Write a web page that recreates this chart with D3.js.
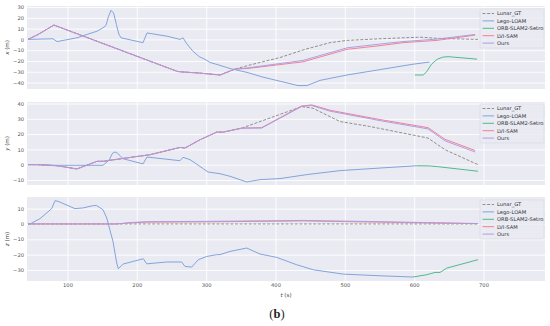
<!DOCTYPE html>
<html><head><meta charset="utf-8">
<script src="https://cdn.jsdelivr.net/npm/d3@7"></script>
<style>body{margin:0;background:#fff}svg{display:block}</style>
</head><body>
<svg id="c" width="550" height="326"></svg>
<script>
const seriesNames = ["Lunar_GT","Lego-LOAM","ORB-SLAM2-Setro","LVI-SAM","Ours"];
const xTicks = [100,200,300,400,500,600,700];
const yTicksX = [-40,-30,-20,-10,0,10,20,30];
const yTicksY = [-10,0,10,20,30,40];
const yTicksZ = [-30,-20,-10,0,10];

// panel x (m)
const commonX = [[43,0],[56,4],[80.5,13.3],[258,-29.6],[262,-30],[290,-31.2],[320,-33],[341.6,-27.5]];
const gtX = [[358.5,-24.5],[380,-21],[406.5,-16.8],[442.6,-9.2],[478.7,-3],[503,-0.9],[550.8,0.6],[608.5,2.1],[633,1],[692,0]];
const lviX = [[358.9,-27],[439.7,-20.8],[503.2,-9.2],[550.8,-5.8],[584,-3],[633,-0.9],[688,4]];
const oursX = [[358.9,-26.5],[439.7,-19.5],[503.2,-7.8],[550.8,-4.3],[584,-2],[633,0.3],[688,4.6]];
const legoX = [[43,0],[79,0.6],[85,-2],[113.7,1.5],[128,4.6],[142.6,7.6],[151,10.7],[155.5,13],[159,21],[162.8,27],[166.5,24.5],[170.5,14],[174,5],[177.2,1.5],[208.9,-3],[214.7,6],[243.5,3],[262.3,0],[266.6,1.5],[272,-4],[281,-11],[290,-16],[298.3,-18.5],[305.5,-21.4],[317,-23.5],[334.4,-27],[358.9,-30.6],[382,-35],[432.5,-42.8],[445.5,-42.8],[464.2,-38],[503.2,-33],[550.8,-28],[598.4,-23],[622,-21]];
const orbX = [[601,-33],[613,-33],[618,-30],[625,-23],[633,-18.5],[641,-16.5],[649,-16],[690.7,-18.3]];

// panel y (m)
const commonY = [[43,0],[56,0],[84.9,-0.7],[113.7,-2.8],[142.6,2.2],[151.2,2.2],[194.5,5],[219,6.5],[262.3,11.3],[269.5,10.9],[291.1,16.3],[315.2,21.3],[324.3,21.3],[351.3,23.9]];
const gtY = [[437.8,38],[454.1,36.9],[493.1,28.2],[536,25],[620,17.4],[644.5,9.8],[692,0]];
const lviY = [[380.1,24.2],[437.8,38.4],[452.3,39.1],[478.7,35.6],[550.8,29.5],[620,24.2],[644.5,16.6],[687.8,9.3]];
const oursY = [[380.1,24],[437.8,38.1],[452.3,38.7],[478.7,35],[550.8,28.8],[620,23.4],[644.5,15.6],[687.8,8.3]];
const legoY = [[43,0],[60,0],[85,-0.4],[151.2,-0.4],[160,3],[165,7.5],[168.5,8.3],[172,7.5],[175.7,6],[180,3.9],[208.9,0.5],[214.7,5],[262.3,2.6],[266.6,4.8],[276.7,3.3],[283.9,1.1],[302.7,-4.8],[320,-5.9],[334.4,-7.6],[358.5,-11.3],[377.7,-9.8],[406.5,-9.1],[445.1,-6.5],[493.1,-3.9],[550.8,-2.2],[603.7,-0.7]];
const orbY = [[603.7,-0.7],[622,-0.8],[634,-1.3],[692,-4.3]];

// panel z (m)
const gtZ = [[43,0],[692,0]];
const lviZ = [[43,0],[171,0],[190,0.7],[215,1.2],[300,1.4],[440,2],[550,1.2],[620,0.7],[692,0.2]];
const oursZ = [[43,0],[171,0],[190,0.9],[215,1.5],[300,1.7],[440,2.3],[550,1.5],[620,0.9],[692,0.3]];
const legoZ = [[43,0],[45.9,0],[60.4,3.5],[77.2,10],[82,15.2],[86.3,14.8],[110.8,10],[122.8,10.5],[137.2,12],[142.1,12],[151.2,9.3],[156.6,3.9],[165.6,-11.4],[171,-25.5],[173.3,-29.2],[178.2,-27],[180.5,-26.1],[209.4,-22.7],[214.3,-26],[243.1,-24.8],[264.7,-24.8],[269.5,-27.7],[279.2,-28.1],[288.7,-23.3],[300.8,-21.2],[315.2,-20],[320,-20],[334.4,-17.9],[358.5,-15.7],[377.7,-19.6],[401.8,-21.8],[430.6,-26.6],[454.6,-29.9],[497.8,-32.7],[550.8,-33.8],[598.4,-34.6]];
const orbZ = [[598.4,-34.6],[618.2,-33.1],[630.1,-31.6],[637.3,-31.6],[647,-28.8],[692,-23.3]];

const colors = {"Lunar_GT":"#8a8a8a","Lego-LOAM":"#7ba0da","ORB-SLAM2-Setro":"#45b886","LVI-SAM":"#f17b93","Ours":"#a99be0"};

const svg = d3.select("#c");
const L = 27, R = 545;
const x = d3.scaleLinear().domain([41.6, 788.7]).range([L, R]);
const font = "DejaVu Sans, sans-serif";

const panels = [
  {top:6, bot:89, dom:[-46,31], ticks:yTicksX, label:"x", data:{
    "Lunar_GT":commonX.concat(gtX), "Lego-LOAM":legoX, "ORB-SLAM2-Setro":orbX,
    "LVI-SAM":commonX.concat(lviX), "Ours":commonX.concat(oursX)}, legTop:9},
  {top:102, bot:185, dom:[-13.3,41], ticks:yTicksY, label:"y", data:{
    "Lunar_GT":commonY.concat(gtY), "Lego-LOAM":legoY, "ORB-SLAM2-Setro":orbY,
    "LVI-SAM":commonY.concat(lviY), "Ours":commonY.concat(oursY)}, legTop:104},
  {top:197, bot:281, dom:[-37.2,17.6], ticks:yTicksZ, label:"z", data:{
    "Lunar_GT":gtZ, "Lego-LOAM":legoZ, "ORB-SLAM2-Setro":orbZ,
    "LVI-SAM":lviZ, "Ours":oursZ}, legTop:200}
];

panels.forEach((p, i) => {
  const y = d3.scaleLinear().domain(p.dom).range([p.bot, p.top]);
  const g = svg.append("g");
  g.append("rect").attr("x", L).attr("y", p.top).attr("width", R-L).attr("height", p.bot-p.top).attr("fill", "#eaeaf2");
  const gx = g.append("g").attr("transform", `translate(0,${p.bot})`)
    .call(d3.axisBottom(x).tickValues(xTicks).tickSize(-(p.bot-p.top)).tickFormat(i===2 ? d3.format("d") : ""));
  gx.select(".domain").remove();
  gx.selectAll("line").attr("stroke", "#fff").attr("stroke-width", 0.9);
  gx.selectAll("text").attr("fill", "#555").attr("font-size", 5.2).attr("font-family", font).attr("dy", "0.9em").attr("y", 1.5);
  const gy = g.append("g").attr("transform", `translate(${L},0)`)
    .call(d3.axisLeft(y).tickValues(p.ticks).tickSize(-(R-L)).tickFormat(d3.format("d")));
  gy.select(".domain").remove();
  gy.selectAll("line").attr("stroke", "#fff").attr("stroke-width", 0.9);
  gy.selectAll("text").attr("fill", "#555").attr("font-size", 5.2).attr("font-family", font).attr("x", -3)
    .text(d => d < 0 ? "\u2212" + Math.abs(d) : d);
  const yl = g.append("text").attr("transform", `translate(9,${(p.top+p.bot)/2}) rotate(-90)`)
    .attr("text-anchor", "middle").attr("font-size", 5.5).attr("font-family", font).attr("fill", "#444");
  yl.append("tspan").attr("font-style", "italic").text(p.label);
  yl.append("tspan").text(" (m)");
  const line = d3.line().x(d => x(d[0])).y(d => y(d[1]));
  const clip = "clip" + i;
  svg.append("clipPath").attr("id", clip).append("rect").attr("x", L).attr("y", p.top).attr("width", R-L).attr("height", p.bot-p.top);
  const lg = g.append("g").attr("clip-path", `url(#${clip})`);
  seriesNames.forEach(n => {
    lg.append("path").attr("d", line(p.data[n])).attr("fill", "none")
      .attr("stroke", colors[n]).attr("stroke-width", 0.95)
      .attr("stroke-dasharray", n === "Lunar_GT" ? "3,1.6" : null)
      .attr("stroke-linejoin", "round");
  });
  const lx = 480, lt = p.legTop;
  g.append("rect").attr("x", lx).attr("y", lt).attr("width", 64).attr("height", 39)
    .attr("fill", "#eaeaf2").attr("fill-opacity", 0.8).attr("stroke", "#d8d8e0").attr("stroke-width", 0.6).attr("rx", 1.5);
  seriesNames.forEach((n, k) => {
    const yy = lt + 4.5 + k * 7.4;
    g.append("line").attr("x1", lx + 2.5).attr("x2", lx + 14).attr("y1", yy).attr("y2", yy)
      .attr("stroke", colors[n]).attr("stroke-width", 0.95)
      .attr("stroke-dasharray", n === "Lunar_GT" ? "3,1.6" : null);
    g.append("text").attr("x", lx + 17).attr("y", yy).attr("dy", "0.35em")
      .attr("font-size", 5.2).attr("font-family", font).attr("fill", "#333").text(n);
  });
});

const xl = svg.append("text").attr("x", 286).attr("y", 297).attr("text-anchor", "middle")
  .attr("font-size", 5.5).attr("font-family", font).attr("fill", "#444");
xl.append("tspan").attr("font-style", "italic").text("t");
xl.append("tspan").text(" (s)");

const cap = svg.append("text").attr("x", 277).attr("y", 318).attr("text-anchor", "middle")
  .attr("font-size", 12.5).attr("font-family", "Liberation Serif, serif").attr("fill", "#222");
cap.append("tspan").text("(");
cap.append("tspan").attr("font-weight", "bold").text("b");
cap.append("tspan").text(")");
</script>
</body></html>
